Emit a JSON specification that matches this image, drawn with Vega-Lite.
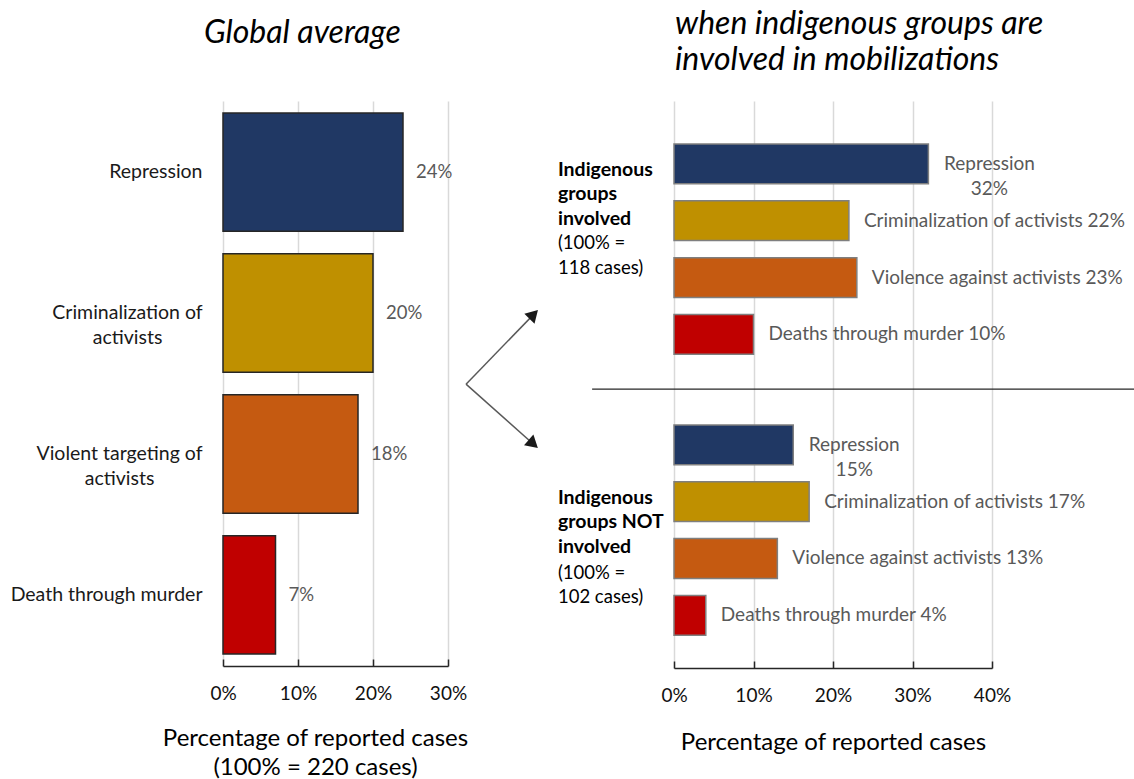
{
  "$schema": "https://vega.github.io/schema/vega-lite/v6.json",
  "background": "white",
  "padding": {"left": 10, "top": 8, "right": 0, "bottom": 0},
  "bounds": "flush",
  "spacing": 226,
  "config": {
    "font": "Lato",
    "view": {"stroke": null},
    "axis": {"labelFont": "Lato", "titleFont": "Lato", "titleFontWeight": "normal"},
    "title": {"font": "Lato", "fontStyle": "italic", "fontWeight": "normal", "fontSize": 32, "color": "#000000", "anchor": "start", "frame": "group"}
  },
  "datasets": {
    "global": [
      {"type": "Repression", "label": "Repression", "value": 24},
      {"type": "Criminalization", "label": "Criminalization of activists", "value": 20},
      {"type": "Violence", "label": "Violent targeting of activists", "value": 18},
      {"type": "Death", "label": "Death through murder", "value": 7}
    ],
    "byGroup": [
      {"group": "involved", "type": "Repression", "label": "Repression", "value": 32},
      {"group": "involved", "type": "Criminalization", "label": "Criminalization of activists", "value": 22},
      {"group": "involved", "type": "Violence", "label": "Violence against activists", "value": 23},
      {"group": "involved", "type": "Death", "label": "Deaths through murder", "value": 10},
      {"group": "not involved", "type": "Repression", "label": "Repression", "value": 15},
      {"group": "not involved", "type": "Criminalization", "label": "Criminalization of activists", "value": 17},
      {"group": "not involved", "type": "Violence", "label": "Violence against activists", "value": 13},
      {"group": "not involved", "type": "Death", "label": "Deaths through murder", "value": 4}
    ],
    "groups": [
      {"group": "involved", "heading": ["Indigenous", "groups", "involved"], "note": ["(100% =", "118 cases)"]},
      {"group": "not involved", "heading": ["Indigenous", "groups NOT", "involved"], "note": ["(100% =", "102 cases)"]}
    ]
  },
  "hconcat": [
    {
      "width": 225,
      "height": 565,
      "data": {"name": "global"},
      "title": {"text": "Global average", "dx": -19, "offset": 51},
      "transform": [{"calculate": "datum.value + '%'", "as": "pct"}],
      "encoding": {
        "y": {
          "field": "label", "type": "nominal", "sort": null,
          "scale": {"paddingInner": 0.16, "paddingOuter": 0.085},
          "axis": {
            "title": null, "domain": false, "ticks": false,
            "labelFontSize": 19.5, "labelColor": "#1a1a1a", "labelLimit": 0,
            "labelLineHeight": 25,
            "labelExpr": "split(replace(datum.label, ' activists', '|activists'), '|')",
            "labelAlign": {"condition": {"test": "indexof(datum.label, 'activists') >= 0", "value": "center"}, "value": "right"},
            "labelPadding": {"condition": [
              {"test": "datum.label == 'Criminalization of activists'", "value": 96},
              {"test": "datum.label == 'Violent targeting of activists'", "value": 104}
            ], "value": 21}
          }
        },
        "x": {
          "field": "value", "type": "quantitative",
          "scale": {"domain": [0, 30]},
          "axis": {
            "values": [0, 10, 20, 30], "labelExpr": "datum.value + '%'", "labelFlush": false,
            "grid": true, "gridColor": "#d9d9d9", "gridWidth": 1.5,
            "domainColor": "#262626", "domainWidth": 1.5,
            "tickColor": "#262626", "tickWidth": 1.5, "tickSize": -7,
            "labelFontSize": 19, "labelColor": "#111111", "labelPadding": 25,
            "title": ["Percentage of reported cases", "(100% = 220 cases)"],
            "titleFontSize": 24, "titleColor": "#000000", "titleLineHeight": 29,
            "titlePadding": 23, "titleX": 92
          }
        }
      },
      "layer": [
        {
          "mark": {"type": "bar", "stroke": "#262626", "strokeWidth": 1.5},
          "encoding": {
            "color": {
              "field": "type", "type": "nominal", "legend": null,
              "scale": {"domain": ["Repression", "Criminalization", "Violence", "Death"],
                        "range": ["#203864", "#bf9000", "#c55a11", "#c00000"]}
            }
          }
        },
        {
          "mark": {"type": "text", "align": "left", "dx": 13, "fontSize": 18.5, "color": "#595959"},
          "encoding": {"text": {"field": "pct"}}
        }
      ]
    },
    {
      "width": 318,
      "height": 567,
      "title": {"text": ["when indigenous groups are", "involved in mobilizations"], "dx": 1, "offset": 24, "lineHeight": 36},
      "encoding": {
        "x": {
          "type": "quantitative",
          "scale": {"domain": [0, 40]},
          "axis": {
            "values": [0, 10, 20, 30, 40], "labelExpr": "datum.value + '%'", "labelFlush": false,
            "grid": true, "gridColor": "#d9d9d9", "gridWidth": 1.5,
            "domainColor": "#262626", "domainWidth": 1.5,
            "tickColor": "#262626", "tickWidth": 1.5, "tickSize": -7,
            "labelFontSize": 19, "labelColor": "#111111", "labelPadding": 25,
            "title": "Percentage of reported cases",
            "titleFontSize": 24, "titleColor": "#000000", "titlePadding": 25
          }
        },
        "y": {
          "type": "nominal",
          "scale": {"domain": ["involved", "not involved"], "paddingInner": 0.191, "paddingOuter": 0.1046, "align": 0.587},
          "axis": null
        }
      },
      "layer": [
        {
          "data": {"name": "byGroup"},
          "mark": {"type": "bar", "stroke": "#7f7f7f", "strokeWidth": 1.5},
          "encoding": {
            "x": {"field": "value"},
            "y": {"field": "group"},
            "yOffset": {"field": "type", "sort": ["Repression", "Criminalization", "Violence", "Death"],
                        "scale": {"paddingInner": 0.3, "paddingOuter": 0.15}},
            "color": {"field": "type", "type": "nominal", "legend": null}
          }
        },
        {
          "data": {"name": "byGroup"},
          "transform": [
            {"filter": "datum.type != 'Repression'"},
            {"calculate": "datum.label + ' ' + datum.value + '%'", "as": "txt"}
          ],
          "mark": {"type": "text", "align": "left", "dx": 15, "fontSize": 19, "color": "#595959"},
          "encoding": {
            "x": {"field": "value"},
            "y": {"field": "group"},
            "yOffset": {"field": "type", "sort": ["Repression", "Criminalization", "Violence", "Death"]},
            "text": {"field": "txt"}
          }
        },
        {
          "data": {"name": "byGroup"},
          "transform": [
            {"filter": "datum.type == 'Repression'"},
            {"calculate": "[datum.label, datum.value + '%']", "as": "txt"}
          ],
          "mark": {"type": "text", "align": "center", "dx": 61, "fontSize": 19, "color": "#595959", "lineHeight": 25},
          "encoding": {
            "x": {"field": "value"},
            "y": {"field": "group"},
            "yOffset": {"field": "type", "sort": ["Repression", "Criminalization", "Violence", "Death"]},
            "text": {"field": "txt"}
          }
        },
        {
          "data": {"name": "groups"},
          "transform": [{"filter": "datum.group == 'involved'"}],
          "mark": {"type": "text", "align": "left", "baseline": "top", "fontSize": 19.5, "fontWeight": "bold", "color": "#000000", "lineHeight": 24.5},
          "encoding": {
            "x": {"datum": -14.6},
            "y": {"field": "group", "bandPosition": 0.112},
            "text": {"field": "heading"}
          }
        },
        {
          "data": {"name": "groups"},
          "transform": [{"filter": "datum.group == 'involved'"}],
          "mark": {"type": "text", "align": "left", "baseline": "top", "fontSize": 18.5, "color": "#000000", "lineHeight": 24.5},
          "encoding": {
            "x": {"datum": -14.6},
            "y": {"field": "group", "bandPosition": 0.434},
            "text": {"field": "note"}
          }
        },
        {
          "data": {"name": "groups"},
          "transform": [{"filter": "datum.group == 'not involved'"}],
          "mark": {"type": "text", "align": "left", "baseline": "top", "fontSize": 19.5, "fontWeight": "bold", "color": "#000000", "lineHeight": 24.5},
          "encoding": {
            "x": {"datum": -14.6},
            "y": {"field": "group", "bandPosition": 0.319},
            "text": {"field": "heading"}
          }
        },
        {
          "data": {"name": "groups"},
          "transform": [{"filter": "datum.group == 'not involved'"}],
          "mark": {"type": "text", "align": "left", "baseline": "top", "fontSize": 18.5, "color": "#000000", "lineHeight": 24.5},
          "encoding": {
            "x": {"datum": -14.6},
            "y": {"field": "group", "bandPosition": 0.649},
            "text": {"field": "note"}
          }
        },
        {
          "data": {"values": [{}]},
          "mark": {"type": "rule", "color": "#262626", "strokeWidth": 1.3},
          "encoding": {
            "x": {"datum": -10.3},
            "x2": {"datum": 58},
            "y": {"datum": "involved", "bandPosition": 1.116}
          }
        },
        {
          "data": {"values": [{}]},
          "mark": {"type": "rule", "color": "#595959", "strokeWidth": 1.5},
          "encoding": {
            "x": {"datum": -26.16},
            "x2": {"datum": -17.65},
            "y": {"datum": "involved", "bandPosition": 1.094},
            "y2": {"datum": "involved", "bandPosition": 0.787}
          }
        },
        {
          "data": {"values": [{}]},
          "mark": {"type": "rule", "color": "#595959", "strokeWidth": 1.5},
          "encoding": {
            "x": {"datum": -26.16},
            "x2": {"datum": -17.7},
            "y": {"datum": "involved", "bandPosition": 1.094},
            "y2": {"datum": "not involved", "bandPosition": 0.121}
          }
        },
        {
          "data": {"values": [{}]},
          "mark": {"type": "point", "shape": "triangle-up", "filled": true, "size": 200, "angle": 44, "color": "#1a1a1a", "opacity": 1},
          "encoding": {
            "x": {"datum": -17.65},
            "y": {"datum": "involved", "bandPosition": 0.787}
          }
        },
        {
          "data": {"values": [{}]},
          "mark": {"type": "point", "shape": "triangle-up", "filled": true, "size": 200, "angle": 131.6, "color": "#1a1a1a", "opacity": 1},
          "encoding": {
            "x": {"datum": -17.7},
            "y": {"datum": "not involved", "bandPosition": 0.121}
          }
        }
      ]
    }
  ]
}
